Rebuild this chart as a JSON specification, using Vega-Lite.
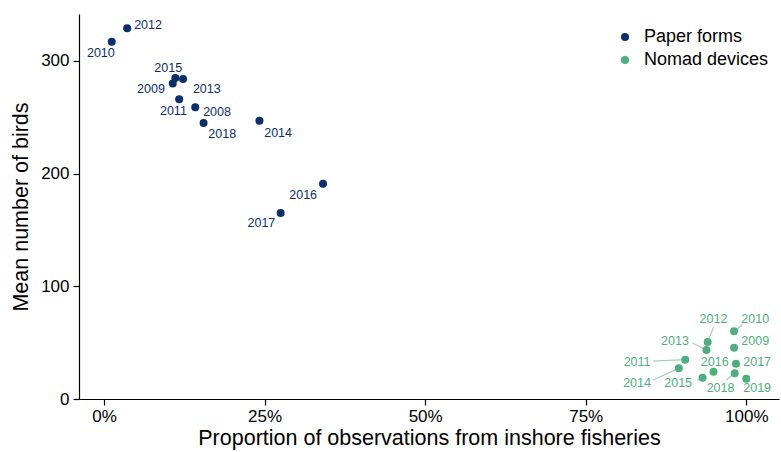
{
  "$schema": "https://vega.github.io/schema/vega-lite/v6.json",
  "width": 700,
  "height": 385,
  "autosize": {"type": "none"},
  "padding": {"left": 79, "top": 14, "right": 2, "bottom": 53},
  "background": "white",
  "config": {
    "view": {"stroke": null},
    "font": "Liberation Sans",
    "axis": {
      "domainColor": "black",
      "domainWidth": 1.2,
      "tickColor": "black",
      "tickWidth": 1.2,
      "tickSize": 6,
      "labelColor": "black",
      "labelFontSize": 17,
      "labelFont": "Liberation Sans",
      "titleFont": "Liberation Sans",
      "titleFontSize": 21.5,
      "titleFontWeight": "normal",
      "titleColor": "black",
      "grid": false
    }
  },
  "datasets": {
    "pts": [
      {"group": "Paper forms", "year": "2008", "prop": 14.2, "mean": 259, "lx": 17.6, "ly": 254.9},
      {"group": "Paper forms", "year": "2009", "prop": 10.7, "mean": 280, "lx": 7.3, "ly": 274.8},
      {"group": "Paper forms", "year": "2010", "prop": 1.2, "mean": 317, "lx": -0.5, "ly": 306.7},
      {"group": "Paper forms", "year": "2011", "prop": 11.7, "mean": 266, "lx": 10.8, "ly": 255.8},
      {"group": "Paper forms", "year": "2012", "prop": 3.6, "mean": 329, "lx": 6.85, "ly": 331.9},
      {"group": "Paper forms", "year": "2013", "prop": 12.3, "mean": 284, "lx": 16.0, "ly": 274.8},
      {"group": "Paper forms", "year": "2014", "prop": 24.2, "mean": 247, "lx": 27.1, "ly": 236.3},
      {"group": "Paper forms", "year": "2015", "prop": 11.1, "mean": 285, "lx": 10.0, "ly": 293.4},
      {"group": "Paper forms", "year": "2016", "prop": 34.1, "mean": 191, "lx": 31.0, "ly": 181.0},
      {"group": "Paper forms", "year": "2017", "prop": 27.5, "mean": 165, "lx": 24.5, "ly": 155.9},
      {"group": "Paper forms", "year": "2018", "prop": 15.5, "mean": 245, "lx": 18.4, "ly": 235.1},
      {"group": "Nomad devices", "year": "2009", "prop": 98.1, "mean": 45.5, "lx": 101.4, "ly": 51.7},
      {"group": "Nomad devices", "year": "2010", "prop": 98.1, "mean": 60.1, "lx": 101.4, "ly": 71.0},
      {"group": "Nomad devices", "year": "2011", "prop": 90.5, "mean": 34.9, "lx": 83.0, "ly": 32.6},
      {"group": "Nomad devices", "year": "2012", "prop": 94.0, "mean": 50.6, "lx": 94.9, "ly": 71.0},
      {"group": "Nomad devices", "year": "2013", "prop": 93.8, "mean": 43.5, "lx": 88.9, "ly": 51.7},
      {"group": "Nomad devices", "year": "2014", "prop": 89.5, "mean": 27.2, "lx": 83.0, "ly": 13.8},
      {"group": "Nomad devices", "year": "2015", "prop": 93.2, "mean": 18.9, "lx": 89.4, "ly": 13.8},
      {"group": "Nomad devices", "year": "2016", "prop": 94.9, "mean": 24.2, "lx": 95.1, "ly": 32.6},
      {"group": "Nomad devices", "year": "2017", "prop": 98.4, "mean": 31.3, "lx": 101.7, "ly": 32.6},
      {"group": "Nomad devices", "year": "2018", "prop": 98.2, "mean": 22.8, "lx": 96.0, "ly": 9.8},
      {"group": "Nomad devices", "year": "2019", "prop": 100.0, "mean": 18.0, "lx": 101.7, "ly": 9.8}
    ],
    "segs": [
      {"group": "Nomad devices", "year": "2010", "prop": 98.1, "mean": 60.1, "sx": 99.4, "sy": 65.7},
      {"group": "Nomad devices", "year": "2012", "prop": 94.0, "mean": 50.6, "sx": 94.9, "sy": 63.9},
      {"group": "Nomad devices", "year": "2013", "prop": 93.8, "mean": 43.5, "sx": 91.6, "sy": 49.7},
      {"group": "Nomad devices", "year": "2011", "prop": 90.5, "mean": 34.9, "sx": 85.5, "sy": 33.7},
      {"group": "Nomad devices", "year": "2014", "prop": 89.5, "mean": 27.2, "sx": 85.5, "sy": 16.9},
      {"group": "Nomad devices", "year": "2015", "prop": 93.2, "mean": 18.9, "sx": 92.4, "sy": 16.9},
      {"group": "Nomad devices", "year": "2018", "prop": 98.2, "mean": 22.8, "sx": 96.9, "sy": 16.9}
    ]
  },
  "layer": [
    {
      "data": {"name": "segs"},
      "mark": {"type": "rule", "strokeWidth": 1.2, "opacity": 0.55, "color": "#4fae80"},
      "encoding": {
        "x": {"field": "prop", "type": "quantitative"},
        "y": {"field": "mean", "type": "quantitative"},
        "x2": {"field": "sx"},
        "y2": {"field": "sy"}
      }
    },
    {
      "data": {"name": "pts"},
      "mark": {"type": "circle", "size": 64, "opacity": 1},
      "encoding": {
        "x": {
          "field": "prop", "type": "quantitative",
          "scale": {"domain": [-3.9, 105.1], "nice": false, "zero": false},
          "axis": {"values": [0, 25, 50, 75, 100], "labelExpr": "datum.value + '%'", "title": "Proportion of observations from inshore fisheries", "labelPadding": 3, "titlePadding": 3}
        },
        "y": {
          "field": "mean", "type": "quantitative",
          "scale": {"domain": [0, 341.7], "nice": false},
          "axis": {"values": [0, 100, 200, 300], "title": "Mean number of birds", "labelPadding": 4, "titlePadding": 8}
        },
        "color": {
          "field": "group", "type": "nominal",
          "scale": {"domain": ["Paper forms", "Nomad devices"], "range": ["#0b2f6b", "#4fae80"]},
          "legend": {
            "title": null, "orient": "none", "legendX": 537, "legendY": 14,
            "labelFontSize": 18, "labelFont": "Liberation Sans", "labelColor": "black",
            "symbolType": "circle", "symbolSize": 64, "symbolOpacity": 1,
            "labelOffset": 10, "rowPadding": 5, "padding": 0
          }
        }
      }
    },
    {
      "data": {"name": "pts"},
      "mark": {"type": "text", "fontSize": 12.5, "font": "Liberation Sans", "align": "center", "baseline": "middle"},
      "encoding": {
        "x": {"field": "lx", "type": "quantitative"},
        "y": {"field": "ly", "type": "quantitative"},
        "text": {"field": "year"},
        "color": {"condition": {"test": "datum.group === 'Paper forms'", "value": "#0b2f6b"}, "value": "#4fae80"}
      }
    }
  ]
}
